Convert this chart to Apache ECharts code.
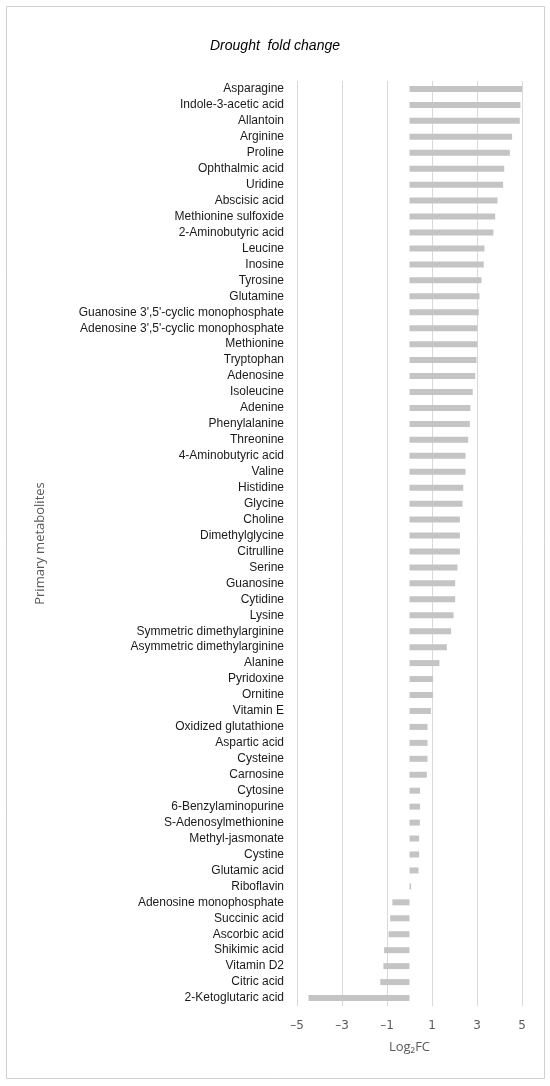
<!DOCTYPE html>
<html lang="en">
<head>
    <meta charset="UTF-8">
    <title>Drought fold change</title>
    <script type="text/javascript" src="https://cdn.jsdelivr.net/npm/echarts@6/dist/echarts.min.js"></script>
    <style>
        body{
            padding: 0px;
            margin: 0px;
            background-color: #ffffff;
        }
        #bar{
            width:550px;
            height:1086px;
        }
    </style>
</head>
<body>
    <div id="bar"></div>
    <script>
    // metabolites, top to bottom
    var metabolites = [
        'Asparagine', 'Indole-3-acetic acid', 'Allantoin', 'Arginine', 'Proline',
        'Ophthalmic acid', 'Uridine', 'Abscisic acid', 'Methionine sulfoxide', '2-Aminobutyric acid',
        'Leucine', 'Inosine', 'Tyrosine', 'Glutamine', "Guanosine 3',5'-cyclic monophosphate",
        "Adenosine 3',5'-cyclic monophosphate", 'Methionine', 'Tryptophan', 'Adenosine', 'Isoleucine',
        'Adenine', 'Phenylalanine', 'Threonine', '4-Aminobutyric acid', 'Valine',
        'Histidine', 'Glycine', 'Choline', 'Dimethylglycine', 'Citrulline',
        'Serine', 'Guanosine', 'Cytidine', 'Lysine', 'Symmetric dimethylarginine',
        'Asymmetric dimethylarginine', 'Alanine', 'Pyridoxine', 'Ornitine', 'Vitamin E',
        'Oxidized glutathione', 'Aspartic acid', 'Cysteine', 'Carnosine', 'Cytosine',
        '6-Benzylaminopurine', 'S-Adenosylmethionine', 'Methyl-jasmonate', 'Cystine', 'Glutamic acid',
        'Riboflavin', 'Adenosine monophosphate', 'Succinic acid', 'Ascorbic acid', 'Shikimic acid',
        'Vitamin D2', 'Citric acid', '2-Ketoglutaric acid'
    ];
    // log2 fold change under drought
    var log2fc = [
        5.02, 4.93, 4.90, 4.56, 4.46,
        4.21, 4.16, 3.91, 3.81, 3.73,
        3.33, 3.30, 3.20, 3.11, 3.08,
        3.01, 3.01, 2.98, 2.92, 2.81,
        2.71, 2.68, 2.61, 2.49, 2.49,
        2.39, 2.36, 2.24, 2.24, 2.24,
        2.13, 2.03, 2.03, 1.96, 1.85,
        1.66, 1.33, 1.05, 1.05, 0.95,
        0.80, 0.80, 0.80, 0.77, 0.47,
        0.47, 0.46, 0.43, 0.43, 0.40,
        0.07, -0.76, -0.86, -0.93, -1.13,
        -1.16, -1.30, -4.49
    ];
    var xTicks = [-5, -3, -1, 1, 3, 5];

    var chart = echarts.init(document.getElementById('bar'), null, {renderer: 'canvas'});
    chart.setOption({
        animation: false,
        title: {
            text: 'Drought  fold change',
            left: 'center',
            top: 34,
            textStyle: {
                fontFamily: 'Liberation Sans',
                fontStyle: 'italic',
                fontWeight: 'normal',
                fontSize: 14,
                color: '#000000'
            }
        },
        graphic: [{
            type: 'rect',
            shape: {x: 6.5, y: 6.5, width: 538, height: 1072},
            style: {fill: 'none', stroke: '#d0d0d0', lineWidth: 1}
        }],
        grid: {
            left: 297,
            right: 28,
            top: 81,
            bottom: 80
        },
        xAxis: {
            type: 'value',
            min: xTicks[0],
            max: xTicks[xTicks.length - 1],
            interval: 2,
            name: 'Log₂FC',
            nameLocation: 'middle',
            nameGap: 35,
            nameTextStyle: {fontFamily: 'Open Sans', fontSize: 13, color: '#595959'},
            axisLine: {show: false},
            axisTick: {show: false},
            axisLabel: {
                margin: 14,
                fontFamily: 'DejaVu Sans',
                fontSize: 12,
                color: '#595959',
                formatter: function (v) { return String(v).replace('-', '\u2013'); }
            },
            splitLine: {show: true, lineStyle: {color: '#d9d9d9', width: 1}}
        },
        yAxis: {
            type: 'category',
            data: metabolites,
            inverse: true,
            name: 'Primary metabolites',
            nameLocation: 'middle',
            nameGap: 250,
            nameTextStyle: {fontFamily: 'Open Sans', fontSize: 13, color: '#595959'},
            axisLine: {show: false},
            axisTick: {show: false},
            axisLabel: {
                margin: 13,
                interval: 0,
                fontFamily: 'Liberation Sans',
                fontSize: 12,
                color: '#1a1a1a'
            },
            splitLine: {show: false}
        },
        series: [{
            type: 'bar',
            data: log2fc,
            barWidth: 6,
            itemStyle: {color: '#c4c4c4'}
        }]
    });
    </script>
</body>
</html>
